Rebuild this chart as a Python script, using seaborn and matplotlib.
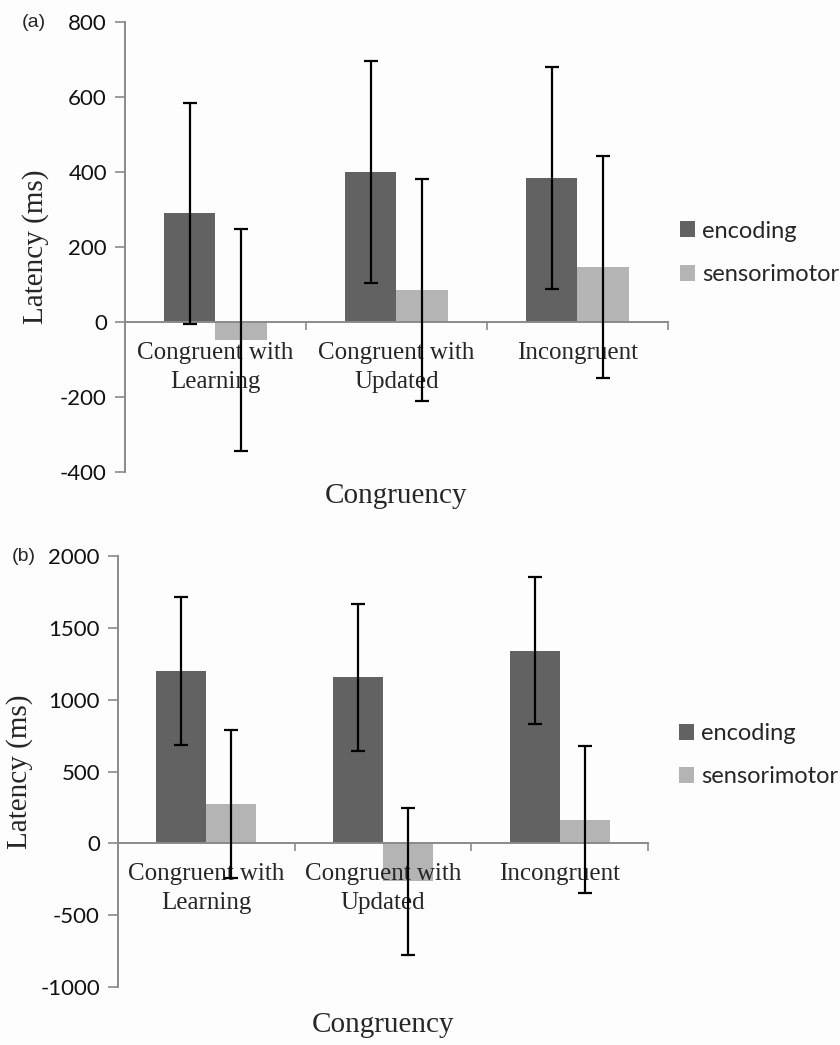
import numpy as np
import pandas as pd
import matplotlib
matplotlib.use('Agg')
import matplotlib.pyplot as plt
import seaborn as sns

# values (ms)
conditions = ['Congruent with\nLearning', 'Congruent with\nUpdated', 'Incongruent']
phases = ['encoding', 'sensorimotor']

a_encoding = [290, 400, 385]
a_encoding_err = [295, 296, 296]
a_sensorimotor = [-48, 85, 148]
a_sensorimotor_err = [297, 296, 296]

b_encoding = [1200, 1155, 1340]
b_encoding_err = [512, 511, 511]
b_sensorimotor = [275, -265, 165]
b_sensorimotor_err = [515, 513, 511]

a_ticks = [-400, -200, 0, 200, 400, 600, 800]
b_ticks = [-1000, -500, 0, 500, 1000, 1500, 2000]

colors = ['#626262', '#b4b4b4']
bg = '#fdfdfd'

sns.set_style('white')
plt.rcParams['font.family'] = ['Lato', 'DejaVu Sans']


def make_df(enc, sen, enc_err, sen_err):
    rows = []
    for i, c in enumerate(conditions):
        rows.append({'cond': c, 'phase': 'encoding', 'latency': enc[i], 'err': enc_err[i]})
    for i, c in enumerate(conditions):
        rows.append({'cond': c, 'phase': 'sensorimotor', 'latency': sen[i], 'err': sen_err[i]})
    return pd.DataFrame(rows)


def draw_panel(ax, df, ticks, letter, letter_x, legend_anchor, ylabel_x, xlabel_y):
    sns.barplot(data=df, x='cond', y='latency', hue='phase', hue_order=phases,
                palette=colors, saturation=1, width=0.565, errorbar=None,
                linewidth=0, ax=ax)
    # error bars at the bar centres
    for patch, (_, row) in zip(ax.patches[:len(df)], df.iterrows()):
        xc = patch.get_x() + patch.get_width() / 2
        ax.errorbar(xc, row['latency'], yerr=row['err'], fmt='none',
                    ecolor='black', elinewidth=1.6, capsize=5, capthick=1.6, zorder=5)
    ax.set_facecolor(bg)
    ax.set_axisbelow(False)  # labels sit on top of the bars
    ax.set_xlim(-0.5, 2.5)
    ax.set_ylim(ticks[0], ticks[-1])
    ax.set_yticks(ticks)
    ax.set_yticklabels([str(t) for t in ticks], fontsize=16, color='#111111')
    ax.tick_params(axis='y', left=True, length=7, width=1.2, color='#8a8a8a', pad=6)

    for s in ['top', 'right']:
        ax.spines[s].set_visible(False)
    ax.spines['left'].set_color('#8a8a8a')
    ax.spines['left'].set_linewidth(1.4)
    ax.spines['bottom'].set_position(('data', 0))
    ax.spines['bottom'].set_color('#8a8a8a')
    ax.spines['bottom'].set_linewidth(1.4)

    ax.set_xticks(range(len(conditions)))
    ax.set_xticklabels(conditions, family='Liberation Serif', fontsize=18, linespacing=1.4)
    ax.set_xticks([0.5, 1.5, 2.5], minor=True)
    ax.tick_params(axis='x', which='major', bottom=False, pad=11)
    ax.tick_params(axis='x', which='minor', bottom=True, length=6, width=1.2, color='#8a8a8a')

    ax.set_xlabel('Congruency', family='Liberation Serif', fontsize=21)
    ax.set_ylabel('Latency (ms)', family='Liberation Serif', fontsize=21)
    ax.yaxis.set_label_coords(ylabel_x, 0.5)
    ax.xaxis.set_label_coords(0.5, xlabel_y)

    ax.legend(loc='center left', bbox_to_anchor=legend_anchor, frameon=False,
              fontsize=17, handlelength=0.65, handleheight=0.65, handletextpad=0.3,
              labelspacing=0.95, borderaxespad=0, borderpad=0)
    ax.text(letter_x, 1.0, letter, transform=ax.transAxes, fontsize=14,
            family='Liberation Sans', va='center', ha='left')


fig = plt.figure(figsize=(8.4, 10.45), dpi=100)
fig.patch.set_facecolor(bg)

ax_a = fig.add_axes([0.1488, 0.5483, 0.6464, 0.4306])
ax_b = fig.add_axes([0.1405, 0.0555, 0.6310, 0.4124])

draw_panel(ax_a, make_df(a_encoding, a_sensorimotor, a_encoding_err, a_sensorimotor_err),
           a_ticks, '(a)', -0.19, (1.022, 0.487), -0.14, -0.025)
draw_panel(ax_b, make_df(b_encoding, b_sensorimotor, b_encoding_err, b_sensorimotor_err),
           b_ticks, '(b)', -0.2, (1.058, 0.538), -0.160, -0.058)

fig.savefig('out.png', dpi=100, facecolor=bg)
